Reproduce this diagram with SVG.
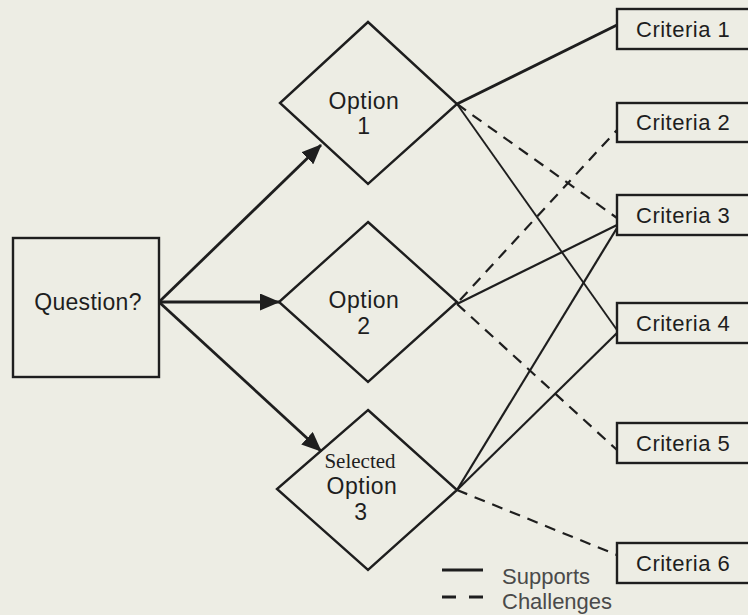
<svg xmlns="http://www.w3.org/2000/svg" width="748" height="615" viewBox="0 0 748 615">
  <style>
    .shape { fill: none; stroke: #1e1e1e; stroke-width: 2.4; stroke-linejoin: miter; }
    .box { fill: none; stroke: #1e1e1e; stroke-width: 2.4; }
    .lbl { font-family: "Liberation Sans", Arial, sans-serif; font-size: 22px; fill: #1e1e1e; letter-spacing: 0.5px; }
    .opt { font-size: 23px; }
    .serif { font-family: "Liberation Serif", "Times New Roman", serif; font-size: 21px; fill: #1e1e1e; }
    .legend { font-family: "Liberation Sans", Arial, sans-serif; font-size: 22px; fill: #4a4a4a; }
    .arrow { stroke: #1e1e1e; stroke-width: 2.8; fill: none; }
    .sup { stroke: #1e1e1e; stroke-width: 2.2; fill: none; }
    .chal { stroke: #1e1e1e; stroke-width: 2.2; fill: none; stroke-dasharray: 11 8; }
  </style>
  <defs>
    <marker id="head" markerUnits="userSpaceOnUse" markerWidth="21" markerHeight="17" refX="19" refY="8.5" orient="auto">
      <path d="M0,0 L20,8.5 L0,17 Z" fill="#1e1e1e"/>
    </marker>
  </defs>

  <rect width="748" height="615" fill="#edede4"/>

  <g id="question">
    <rect class="box" x="13" y="238" width="146" height="139"/>
    <text class="lbl" x="88" y="310" text-anchor="middle" style="font-size:23px;letter-spacing:0.3px">Question?</text>
  </g>

  <g id="option1">
    <polygon class="shape" points="368,22 457,104 368,184 280,103"/>
    <text class="lbl opt" x="364" y="109" text-anchor="middle">Option</text>
    <text class="lbl opt" x="364" y="134" text-anchor="middle">1</text>
  </g>

  <g id="option2">
    <polygon class="shape" points="368,222 457,302 368,382 279,302"/>
    <text class="lbl opt" x="364" y="308" text-anchor="middle">Option</text>
    <text class="lbl opt" x="364" y="334" text-anchor="middle">2</text>
  </g>

  <g id="option3">
    <polygon class="shape" points="368,410 457,490 368,570 277,489"/>
    <text class="serif" x="360" y="468" text-anchor="middle">Selected</text>
    <text class="lbl opt" x="362" y="494" text-anchor="middle">Option</text>
    <text class="lbl opt" x="361" y="520" text-anchor="middle">3</text>
  </g>

  <g id="criteria1">
    <rect class="box" x="617" y="9" width="140" height="40"/>
    <text class="lbl" x="636" y="37">Criteria 1</text>
  </g>
  <g id="criteria2">
    <rect class="box" x="617" y="103" width="140" height="39"/>
    <text class="lbl" x="636" y="130">Criteria 2</text>
  </g>
  <g id="criteria3">
    <rect class="box" x="617" y="195" width="140" height="40"/>
    <text class="lbl" x="636" y="223">Criteria 3</text>
  </g>
  <g id="criteria4">
    <rect class="box" x="617" y="303" width="140" height="40"/>
    <text class="lbl" x="636" y="331">Criteria 4</text>
  </g>
  <g id="criteria5">
    <rect class="box" x="617" y="423" width="140" height="40"/>
    <text class="lbl" x="636" y="451">Criteria 5</text>
  </g>
  <g id="criteria6">
    <rect class="box" x="617" y="543" width="140" height="40"/>
    <text class="lbl" x="636" y="571">Criteria 6</text>
  </g>

  <g id="connectors">
    <line class="arrow" x1="159" y1="302" x2="321" y2="145" marker-end="url(#head)"/>
    <line class="arrow" x1="159" y1="302" x2="279" y2="302" marker-end="url(#head)"/>
    <line class="arrow" x1="159" y1="302" x2="321" y2="451" marker-end="url(#head)"/>

    <line class="sup" x1="457" y1="104" x2="617" y2="25" style="stroke-width:3px"/>
    <line class="chal" x1="457" y1="104" x2="617" y2="218"/>
    <line class="sup" x1="457" y1="104" x2="617" y2="330" style="stroke-width:1.9px"/>

    <line class="chal" x1="460" y1="300" x2="617" y2="130"/>
    <line class="sup" x1="457" y1="304" x2="617" y2="225"/>
    <line class="chal" x1="457" y1="304" x2="617" y2="450"/>

    <line class="sup" x1="457" y1="490" x2="617" y2="228"/>
    <line class="sup" x1="457" y1="490" x2="617" y2="333"/>
    <line class="chal" x1="457" y1="490" x2="617" y2="555"/>
  </g>

  <g id="legend">
    <line class="sup" x1="442" y1="570" x2="483" y2="570" style="stroke-width:3.2px"/>
    <line class="chal" x1="442" y1="597" x2="483" y2="597" style="stroke-width:3.2px;stroke-dasharray:14 13"/>
    <text class="legend" x="502" y="584">Supports</text>
    <text class="legend" x="502" y="609">Challenges</text>
  </g>
</svg>
